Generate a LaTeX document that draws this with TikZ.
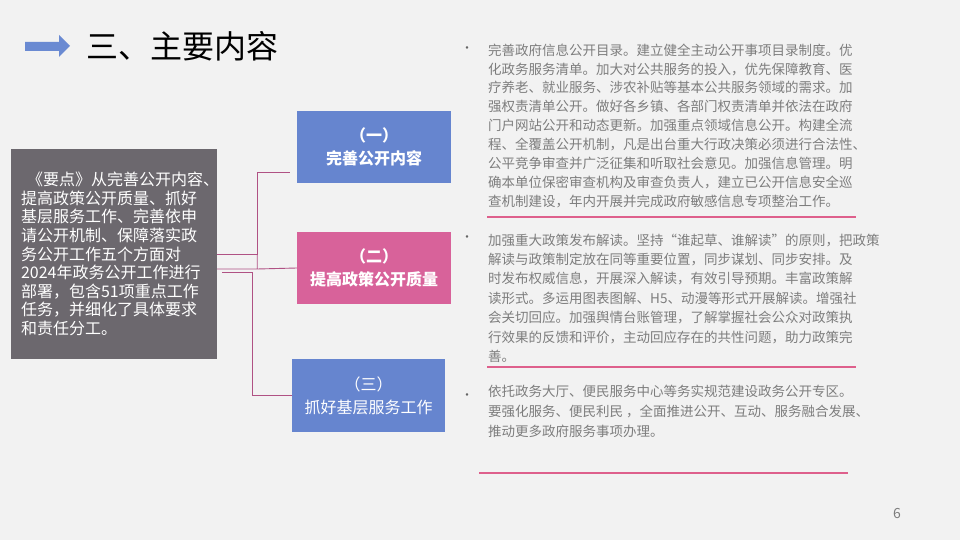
\documentclass[tikz,border=0pt]{standalone}
\usepackage{fontspec}
\setmainfont{Noto Sans CJK SC}
\usetikzlibrary{calc}

\definecolor{slidebg}{RGB}{242,242,242}
\definecolor{arrowblue}{RGB}{106,138,210}
\definecolor{topicblue}{RGB}{102,133,207}
\definecolor{topicpink}{RGB}{216,98,154}
\definecolor{leadgray}{RGB}{108,104,110}
\definecolor{bodygray}{RGB}{125,125,125}
\definecolor{linkpink}{RGB}{176,82,132}
\definecolor{rulepink}{RGB}{222,96,140}

\begin{document}
\begin{tikzpicture}[
    x=1pt, y=-1pt,
    every node/.style={inner sep=0pt, align=left},
    topicbox/.style={
        fill=#1,
        text=white,
        minimum width=154pt,
        minimum height=72pt,
        align=center,
        font=\fontsize{16}{23}\selectfont
    },
    bodytext/.style={text=bodygray, anchor=north west, font=\fontsize{13.5}{#1}\selectfont},
    bodytext/.default=18.9,
    dot/.style={text=bodygray!80!black, font=\fontsize{12}{12}\selectfont},
    link/.style={draw=linkpink, line width=0.9pt},
    rule/.style={draw=rulepink, line width=1.2pt}
]

\fill[slidebg] (0,0) rectangle (960,540);
\useasboundingbox (0,0) rectangle (960,540);

% Title
\fill[arrowblue] (25,42) -- (59,42) -- (59,35) -- (70,46) -- (59,57) -- (59,51) -- (25,51) -- cycle;
\node (title) [anchor=west, font=\fontsize{32}{38}\selectfont] at (86,46) {三、主要内容};

% Nodes
\node (lead) [fill=leadgray, text=white, minimum width=206pt, minimum height=210pt,
    text width=186pt, font=\fontsize{16}{18.6}\selectfont] at (114,254)
    {\hspace*{6pt}《要点》从完善公开内容、\\提高政策公开质量、抓好\\基层服务工作、完善依申\\请公开机制、保障落实政\\务公开工作五个方面对\\2024年政务公开工作进行\\部署，包含51项重点工作\\任务，并细化了具体要求\\和责任分工。};

\node (box1) [topicbox=topicblue] at (374,147) {\bfseries （一）\\\bfseries 完善公开内容};
\node (box2) [topicbox=topicpink] at (374,268) {\bfseries （二）\\\bfseries 提高政策公开质量};
\node (box3) [topicbox=topicblue, minimum width=153pt, minimum height=73pt] at (368.5,395.5) {（三）\\抓好基层服务工作};

\node (dot1) [dot] at (467,50) {•};
\node (text1) [bodytext] at (488,43.5) {完善政府信息公开目录。建立健全主动公开事项目录制度。优\\化政务服务清单。加大对公共服务的投入，优先保障教育、医\\疗养老、就业服务、涉农补贴等基本公共服务领域的需求。加\\强权责清单公开。做好各乡镇、各部门权责清单并依法在政府\\门户网站公开和动态更新。加强重点领域信息公开。构建全流\\程、全覆盖公开机制，凡是出台重大行政决策必须进行合法性、\\公平竞争审查并广泛征集和听取社会意见。加强信息管理。明\\确本单位保密审查机构及审查负责人，建立已公开信息安全巡\\查机制建设，年内开展并完成政府敏感信息专项整治工作。};

\node (dot2) [dot] at (467,239) {•};
\node (text2) [bodytext=19.4] at (488,233.5) {加强重大政策发布解读。坚持“谁起草、谁解读”的原则，把政策\\解读与政策制定放在同等重要位置，同步谋划、同步安排。及\\时发布权威信息，开展深入解读，有效引导预期。丰富政策解\\读形式。多运用图表图解、H5、动漫等形式开展解读。增强社\\会关切回应。加强舆情台账管理，了解掌握社会公众对政策执\\行效果的反馈和评价，主动回应存在的共性问题，助力政策完\\善。};

\node (dot3) [dot] at (467,397) {•};
\node (text3) [bodytext=20] at (488,384.5) {依托政务大厅、便民服务中心等务实规范建设政务公开专区。\\要强化服务、便民利民 ，全面推进公开、互动、服务融合发展、\\推动更多政府服务事项办理。};

\node (pageno) [text=bodygray, font=\fontsize{14}{16}\selectfont] at (897,514) {6};

% Rules
\draw[rule] (487,217) -- (856,217);
\draw[rule] (487,367) -- (856,367);
\draw[rule] (479,473) -- (848,473);

% Connectors
\coordinate (k1) at (290,172);
\draw[link] (lead.east) -- ++(40,0) |- (k1);
\draw[link] ($(lead.east)+(0,15)$) -- ++(40,0) -- ++(0,-15) ++(0,15) -- (box2.west);
\draw[link] ($(lead.east)+(5,18)$) -- ++(30,0) |- (box3.west);

\end{tikzpicture}
\end{document}
